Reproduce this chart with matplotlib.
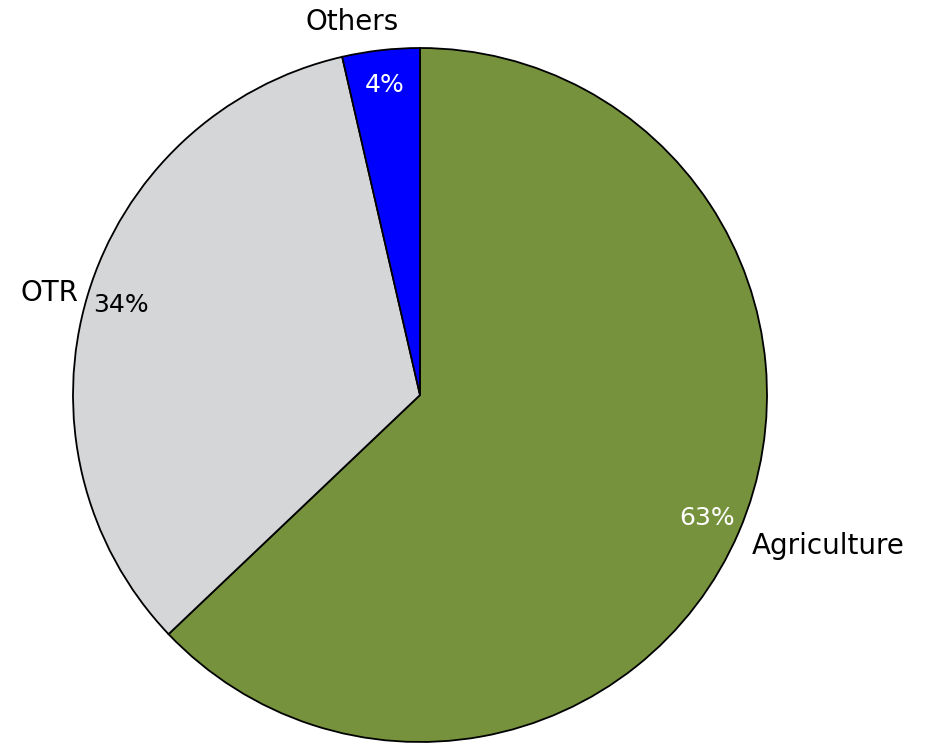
import matplotlib
matplotlib.use("Agg")
import matplotlib.pyplot as plt
import numpy as np

categories = ["Agriculture", "OTR", "Others"]
values = [62.9, 33.5, 3.6]
pct_labels = ["63%", "34%", "4%"]
colors = ["#77923C", "#D5D6D8", "#0000FF"]
pct_colors = ["white", "black", "white"]

plt.rcParams['font.family'] = ['DejaVu Sans']

W, H = 929, 750
fig = plt.figure(figsize=(W / 100, H / 100), dpi=100)
cx, cy, r = 420, 395, 347
ax = fig.add_axes([(cx - r) / W, (H - cy - r) / H, 2 * r / W, 2 * r / H])

wedges, texts = ax.pie(values, labels=categories, colors=colors, startangle=90,
                       counterclock=False, labeldistance=1.04,
                       wedgeprops=dict(edgecolor="black", linewidth=1.3),
                       textprops=dict(fontsize=20, color="black"))

for w, lab, col in zip(wedges, pct_labels, pct_colors):
    ang = np.deg2rad((w.theta1 + w.theta2) / 2)
    ax.text(0.9 * np.cos(ang), 0.9 * np.sin(ang), lab, ha="center", va="center",
            fontsize=18, color=col)

# fine-tune label anchor positions
texts[2].set_position((-0.06, 1.075))
texts[2].set_ha("right")
texts[1].set_position((-0.985, 0.295))
texts[0].set_position((0.955, -0.435))

ax.set_xlim(-1, 1)
ax.set_ylim(-1, 1)
ax.set_aspect("equal")
ax.axis("off")

fig.savefig("out.png", dpi=100)
